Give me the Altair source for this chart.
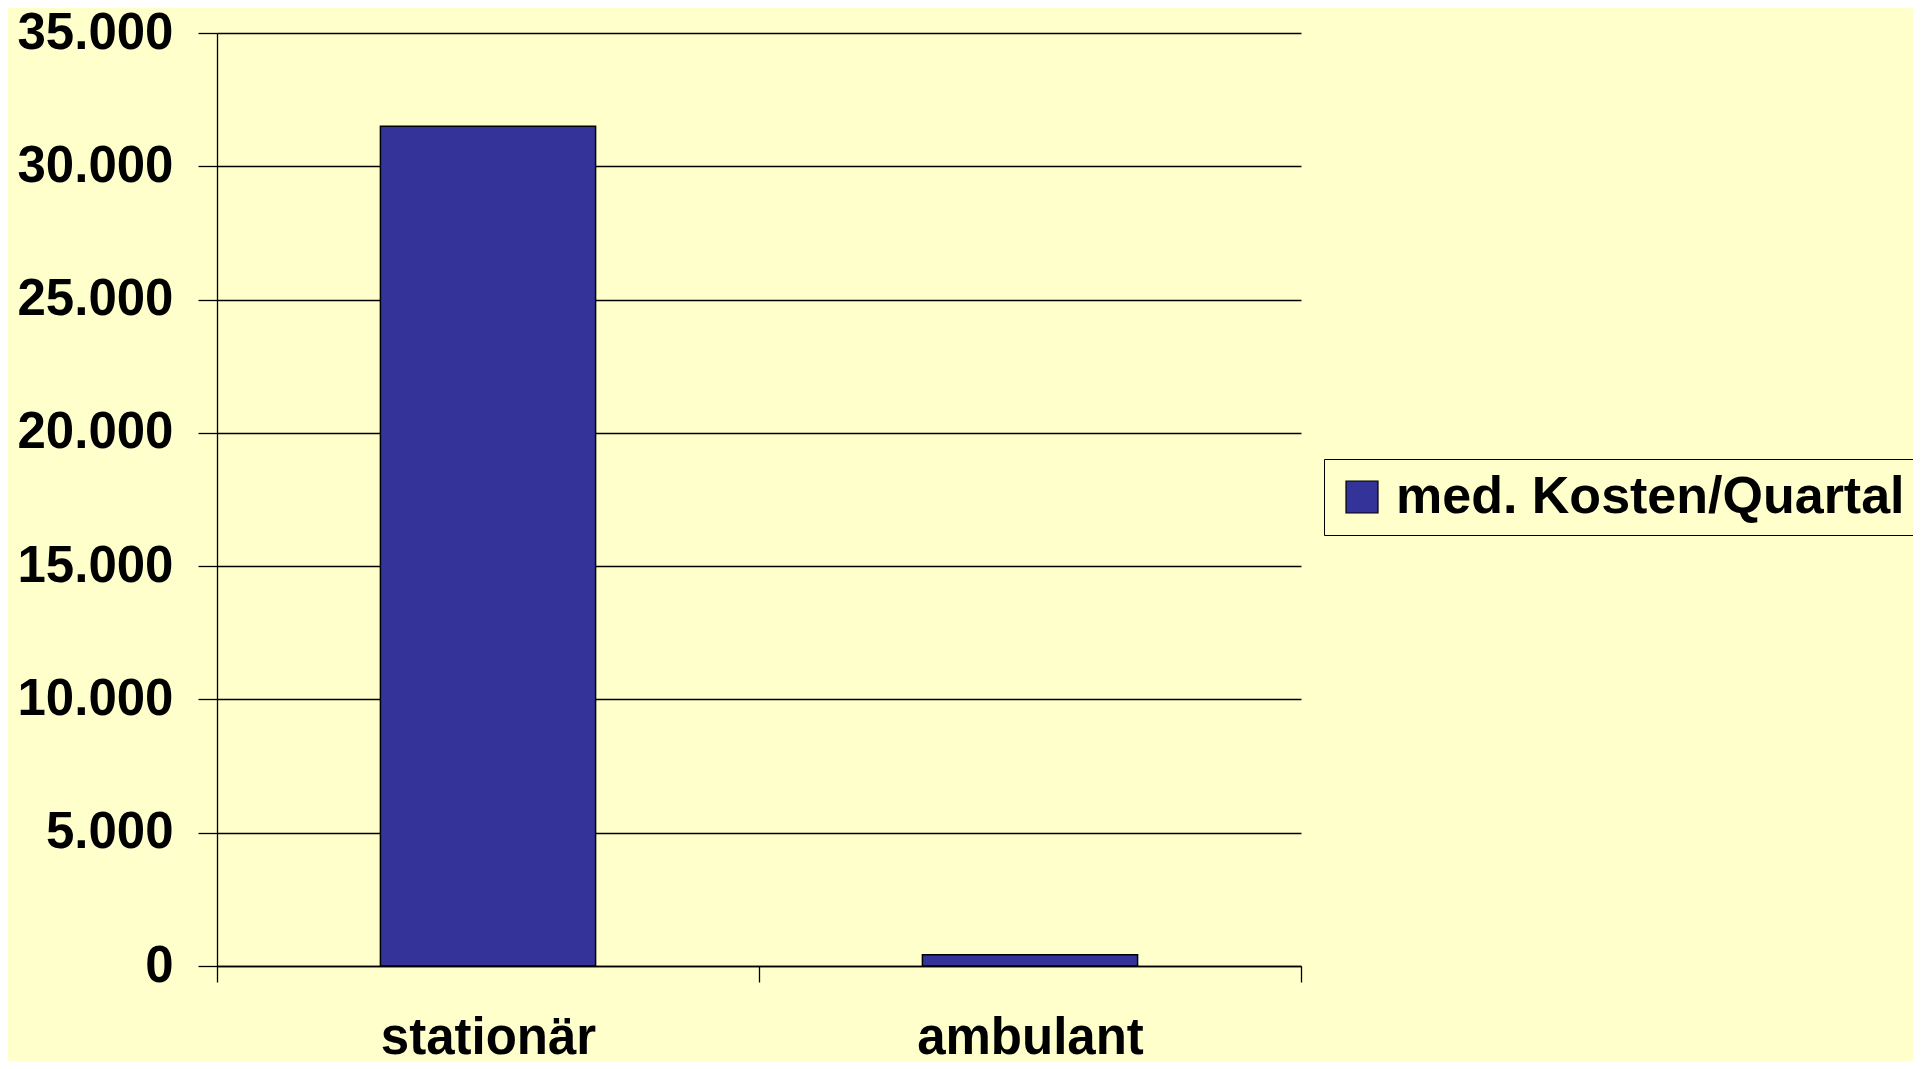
import altair as alt
import pandas as pd

categories = ["stationär", "ambulant"]
values = [31500, 420]
series_name = "med. Kosten/Quartal"

df = pd.DataFrame({"Kategorie": categories, "Wert": values, "Serie": [series_name] * len(categories)})

FONT = "Liberation Sans"
BG = "#FFFFCC"
BAR = "#333399"

chart = (
    alt.Chart(df)
    .mark_bar(width=alt.RelativeBandSize(0.397), stroke="black", strokeWidth=1.5)
    .encode(
        x=alt.X(
            "Kategorie:N",
            sort=categories,
            scale=alt.Scale(paddingInner=0, paddingOuter=0),
            axis=alt.Axis(
                title=None,
                labelAngle=0,
                labelFont=FONT,
                labelFontSize=51,
                labelFontWeight="bold",
                labelColor="black",
                labelPadding=31,
                labelLimit=800,
                tickBand="extent",
                tickSize=16,
                tickColor="black",
                tickWidth=1.3,
                domainColor="black",
                domainWidth=1.5,
                grid=False,
            ),
        ),
        y=alt.Y(
            "Wert:Q",
            scale=alt.Scale(domain=[0, 35000]),
            axis=alt.Axis(
                title=None,
                values=[0, 5000, 10000, 15000, 20000, 25000, 30000, 35000],
                labelExpr="replace(format(datum.value, ','), ',', '.')",
                labelFont=FONT,
                labelFontSize=51,
                labelFontWeight="bold",
                labelColor="black",
                labelPadding=25,
                labelLimit=800,
                tickSize=19,
                tickColor="black",
                tickWidth=1.3,
                domainColor="black",
                domainWidth=1.3,
                grid=True,
                gridColor="black",
                gridWidth=1.3,
                gridOpacity=1,
            ),
        ),
        color=alt.Color(
            "Serie:N",
            scale=alt.Scale(range=[BAR]),
            legend=alt.Legend(
                title=None,
                orient="none",
                legendX=1107,
                legendY=426,
                symbolType="square",
                symbolSize=1024,
                symbolStrokeColor="black",
                symbolStrokeWidth=1.2,
                symbolOffset=0,
                labelFont=FONT,
                labelFontSize=52,
                labelFontWeight="bold",
                labelColor="black",
                labelOffset=8,
                labelLimit=1000,
                padding=12,
                strokeColor="black",
                fillColor=BG,
            ),
        ),
    )
    .properties(
        width=1084,
        height=933,
        autosize=alt.AutoSizeParams(type="none"),
        padding={"left": 209, "top": 25, "right": 612, "bottom": 95},
        background=BG,
    )
    .configure_view(stroke=None)
)

chart.save("out.html", embed_options={"renderer": "svg", "actions": False})
